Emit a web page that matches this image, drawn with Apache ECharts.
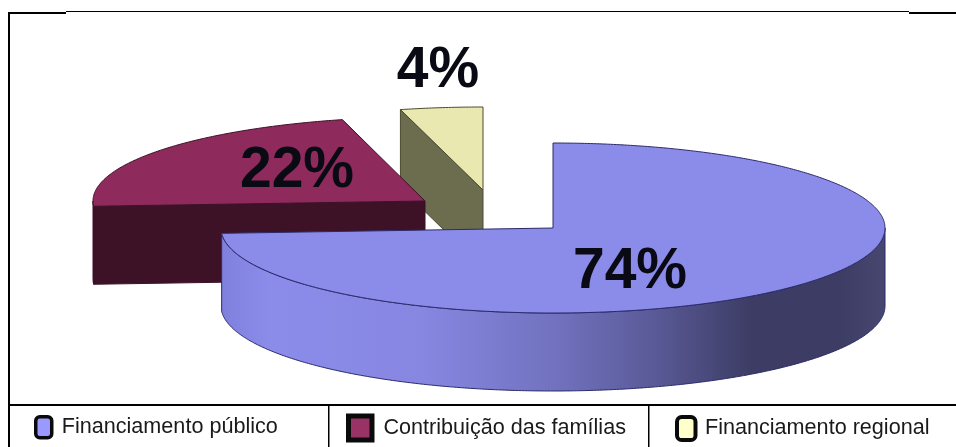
<!DOCTYPE html>
<html><head><meta charset="utf-8">
<style>html,body{margin:0;padding:0;background:#fff}#c{width:956px;height:447px}</style>
<script src="https://cdn.jsdelivr.net/npm/echarts@6/dist/echarts.min.js"></script>
</head><body><div id="c"></div>
<script>
const categories = ['Financiamento público', 'Contribuição das famílias', 'Financiamento regional'];
const shares = [74, 22, 4];

// appearance and layout only
const topColors = ['#8b8bea', '#8e2a5c', '#e9e8b0'];
const sideColors = [null, '#3d1126', '#6c6c4e'];
const edgeColors = ['#2a2a6a', '#3d1126', '#4a4a30'];
const apexes = [[553, 228], [425, 201], [483, 190]];
const labelCentres = [[630, 272], [297, 171], [438, 71]];
const swatchColors = ['#9999ff', '#993366', '#ffffcc'];
const RX = 332, RYS = [85, 84, 83], DEPTH = 78;

const chart = echarts.init(document.getElementById('c'), null, {renderer: 'canvas'});
const total = shares.reduce((a, b) => a + b, 0);
const starts = shares.map((_, i) => shares.slice(0, i).reduce((a, b) => a + b, 0) / total * 360);

function rimPoint(i, deg, drop) {
  const r = deg * Math.PI / 180, apex = apexes[i];
  return [apex[0] + RX * Math.sin(r), apex[1] - RYS[i] * Math.cos(r) + drop];
}
function arc(i, a, b, drop) {
  const pts = [], n = Math.max(2, Math.ceil(Math.abs(b - a) * 2));
  for (let k = 0; k <= n; k++) pts.push(rimPoint(i, a + (b - a) * k / n, drop));
  return pts;
}
function renderSlice(i) {
  return function (params, api) {
    const value = api.value(0);
    const a = starts[i], b = a + value / total * 360, apex = apexes[i];
    const kids = [];
    const side = sideColors[i] || new echarts.graphic.LinearGradient(0, 0, 1, 0, [
      {offset: 0, color: '#7f7fdc'}, {offset: 0.07, color: '#8b8bea'}, {offset: 0.3, color: '#8787e2'},
      {offset: 0.5, color: '#7272c0'}, {offset: 0.65, color: '#5a5a98'}, {offset: 0.8, color: '#3c3c64'}, {offset: 0.93, color: '#3c3c64'}, {offset: 1, color: '#47476f'}]);
    const face = pts => kids.push({type: 'polygon', shape: {points: pts},
      style: {fill: side, stroke: edgeColors[i], lineWidth: 1}});
    // radial faces seen from the front
    if (a > 180 && a < 360) {
      const p = rimPoint(i, a, 0), q = rimPoint(i, a, DEPTH);
      face([apex, p, q, [apex[0], apex[1] + DEPTH]]);
    }
    if (b > 0 && b < 180) {
      const p = rimPoint(i, b, 0), q = rimPoint(i, b, DEPTH);
      face([apex, p, q, [apex[0], apex[1] + DEPTH]]);
    }
    // outer wall on the front half
    const lo = Math.max(a, 90), hi = Math.min(b, 270);
    if (hi > lo) face(arc(i, lo, hi, 0).concat(arc(i, hi, lo, DEPTH)));
    // top
    kids.push({type: 'polygon', shape: {points: [apex].concat(arc(i, a, b, 0))},
      style: {fill: topColors[i], stroke: edgeColors[i], lineWidth: 1}});
    // value label
    kids.push({type: 'text', x: labelCentres[i][0], y: labelCentres[i][1], z2: 10,
      style: {text: Math.round(value / total * 100) + '%', fill: '#0a0a14',
        font: 'bold 57px "Liberation Sans", Arial, sans-serif', align: 'center', verticalAlign: 'middle'}});
    return {type: 'group', children: kids};
  };
}
// painted back to front
const paintOrder = [2, 1, 0];
const series = paintOrder.map(i => ({
  type: 'custom', name: categories[i], coordinateSystem: 'none', silent: true, animation: false,
  itemStyle: {color: swatchColors[i]},
  renderItem: renderSlice(i), data: [[shares[i]]]
}));
const legendSpec = [
  {left: 34, top: 415, iw: 16, ih: 21, bw: 3.5, gap: 5, icon: 'roundRect'},
  {left: 346, top: 413.5, iw: 23.5, ih: 24, bw: 5, gap: 6.5, icon: 'rect'},
  {left: 675, top: 415, iw: 18.5, ih: 23, bw: 4, gap: 4.5, icon: 'roundRect'}
];
const legends = categories.map((name, i) => ({
  left: legendSpec[i].left, top: legendSpec[i].top, padding: 0, itemWidth: legendSpec[i].iw, itemHeight: legendSpec[i].ih,
  selectedMode: false,
  textStyle: {fontFamily: '"Liberation Sans", Arial, sans-serif', fontSize: 21.6, color: '#1a1a1a', padding: [4, 0, 0, legendSpec[i].gap]},
  data: [{name, icon: legendSpec[i].icon, itemStyle: {color: swatchColors[i], borderColor: '#0a0a0a', borderWidth: legendSpec[i].bw}}]
}));
const bar = (x, y, w, h) => ({type: 'rect', shape: {x, y, width: w, height: h}, style: {fill: '#000'}, silent: true});
chart.setOption({
  animation: false, backgroundColor: '#fff',
  legend: legends, series,
  graphic: [
    bar(8, 12, 2, 435), bar(8, 12, 58, 2), bar(66, 11, 843, 1), bar(909, 12, 47, 2),
    bar(8, 404, 948, 2), bar(328, 404, 1.5, 43), bar(648, 404, 1.5, 43)
  ]
});
</script></body></html>
